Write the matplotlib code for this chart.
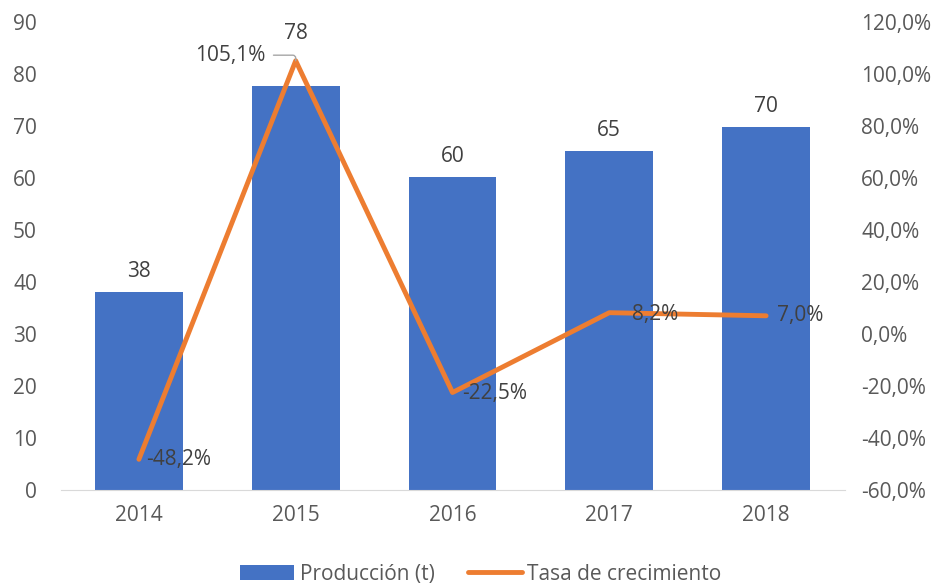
import matplotlib.pyplot as plt
import numpy as np

# data
years = ["2014", "2015", "2016", "2017", "2018"]
produccion = [38.1, 77.7, 60.2, 65.2, 69.8]
tasa = [-48.2, 105.1, -22.5, 8.2, 7.0]

plt.rcParams['font.family'] = ['Open Sans', 'DejaVu Sans']

fig = plt.figure(figsize=(9.43, 5.84), dpi=100)
ax = fig.add_axes([60.5 / 943, 94 / 584, 784 / 943, 468 / 584])
ax2 = ax.twinx()

x = np.arange(len(years))
ax.bar(x, produccion, width=0.56, color='#4472C4', label='Producción (t)', zorder=2)
ax2.plot(x, tasa, color='#ED7D31', lw=3.5, solid_capstyle='round', label='Tasa de crecimiento', zorder=3)

ax.set_ylim(0, 90)
ax.set_yticks(range(0, 91, 10))
ax2.set_ylim(-60, 120)
ax2.set_yticks(range(-60, 121, 20))
ax2.set_yticklabels([f"{v:.1f}%".replace('.', ',') for v in range(-60, 121, 20)])
ax.set_xlim(-0.5, len(years) - 0.5)
ax.set_xticks(x)
ax.set_xticklabels(years)

for a in (ax, ax2):
    for s in a.spines.values():
        s.set_visible(False)
    a.tick_params(length=0, labelsize=15, labelcolor='#595959')
ax.spines['bottom'].set_visible(True)
ax.spines['bottom'].set_color('#D9D9D9')
ax.tick_params(axis='x', pad=11)
ax.tick_params(axis='y', pad=17)
ax2.tick_params(axis='y', pad=12)

# bar labels
for i, (xi, v) in enumerate(zip(x, produccion)):
    dy = 30 if i == 1 else 7
    ax.annotate(f"{v:.0f}", (xi, v), xytext=(0, dy), textcoords='offset points',
                ha='center', va='bottom', fontsize=15, color='#404040')

# line labels
offsets = [(5, 0), (0, 0), (7, -1), (16, -1), (8, 0)]
for i, (xi, v) in enumerate(zip(x, tasa)):
    lab = f"{v:.1f}%".replace('.', ',')
    if i == 1:
        ax2.annotate(lab, (xi, v), xytext=(-22, 4), textcoords='offset points',
                     ha='right', va='center', fontsize=15, color='#404040',
                     arrowprops=dict(arrowstyle='-', color='#A6A6A6', lw=1,
                                     shrinkA=4, shrinkB=0,
                                     connectionstyle='angle,angleA=0,angleB=90,rad=3'))
    else:
        dx, dy = offsets[i]
        ax2.annotate(lab, (xi, v), xytext=(dx, dy), textcoords='offset points',
                     ha='left', va='center', fontsize=15, color='#404040')

h1, l1 = ax.get_legend_handles_labels()
h2, l2 = ax2.get_legend_handles_labels()
fig.legend(h1 + h2, l1 + l2, loc='lower center', bbox_to_anchor=(0.51, -0.033), ncol=2,
           frameon=False, fontsize=15, labelcolor='#595959', handlelength=2.6,
           handletextpad=0.25, columnspacing=1.6)

fig.savefig('out.png', dpi=100)
